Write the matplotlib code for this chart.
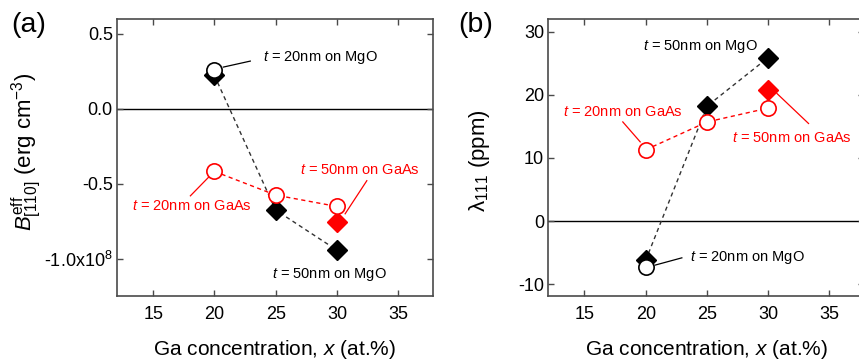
import numpy as np
import matplotlib
matplotlib.use("Agg")
import matplotlib.pyplot as plt

plt.rcParams['font.family'] = ['Liberation Sans', 'DejaVu Sans']
plt.rcParams['mathtext.fontset'] = 'custom'
plt.rcParams['mathtext.rm'] = 'Liberation Sans'
plt.rcParams['mathtext.it'] = 'Liberation Sans:italic'
plt.rcParams['mathtext.default'] = 'regular'
plt.rcParams['axes.unicode_minus'] = False

# Ga concentration (at.%)
x = [20, 25, 30]
x_single = [20]
x_red_d = [30]

# (a) B_eff [110] in units of 1e8 erg cm^-3
a_mgo50 = [0.223, -0.676, -0.944]     # black diamonds, t = 50nm on MgO
a_mgo20 = [0.261]                      # open black circle, t = 20nm on MgO
a_gaas20 = [-0.418, -0.576, -0.652]   # open red circles, t = 20nm on GaAs
a_gaas50 = [-0.759]                    # red diamond, t = 50nm on GaAs

# (b) lambda_111 (ppm)
b_mgo50 = [-6.2, 18.2, 25.9]
b_mgo20 = [-7.2]
b_gaas20 = [11.3, 15.7, 17.9]
b_gaas50 = [20.8]

a_ticks = [0.5, 0.0, -0.5, -1.0]
a_ticklabels = ['0.5', '0.0', '-0.5', '-1.0x10$^{8}$']
b_ticks = [30, 20, 10, 0, -10]
x_ticks = [15, 20, 25, 30, 35]

RED = '#ff0000'
SPINE = '#4a4a4a'

fig = plt.figure(figsize=(8.59, 3.63), dpi=100)
ax1 = fig.add_axes([0.1362, 0.1846, 0.368, 0.763])
ax2 = fig.add_axes([0.6383, 0.1846, 0.368, 0.763])


def style(ax):
    for s in ax.spines.values():
        s.set_color(SPINE)
        s.set_linewidth(1.2)
    ax.tick_params(direction='in', top=True, right=True, length=4,
                   width=1, color=SPINE, labelsize=13)
    ax.tick_params(axis='x', pad=7.5)
    ax.tick_params(axis='y', pad=3)
    ax.set_xlim(12.05, 37.85)
    ax.set_xticks(x_ticks)
    ax.axhline(0, color='black', lw=1.0, zorder=1)
    ax.set_xlabel('Ga concentration, $\\it{x}$ (at.%)', fontsize=15)
    ax.xaxis.set_label_coords(0.5, -0.152)


def draw(ax, mgo50, mgo20, gaas20, gaas50):
    ax.plot(x, mgo50, ls=(0, (3, 2.5)), color='#333333', lw=1, zorder=2)
    ax.plot(x, gaas20, ls=(0, (3, 2.5)), color=RED, lw=1, zorder=2)
    ax.plot(x, mgo50, 'D', ms=10.5, mfc='black', mec='black', lw=0, zorder=3)
    ax.plot(x_red_d, gaas50, 'D', ms=10.5, mfc=RED, mec=RED, lw=0, zorder=3)
    ax.plot(x_single, mgo20, 'o', ms=11, mfc='white', mec='black', mew=1.2, zorder=4)
    ax.plot(x, gaas20, 'o', ms=11, mfc='white', mec=RED, mew=1.2, zorder=4)


def label(ax, txt, xy, color, ha='left', line=None):
    ax.text(xy[0], xy[1], '$\\it{t}$ = ' + txt, color=color, fontsize=10.5,
            ha=ha, va='center', zorder=5)
    if line is not None:
        (x0, y0), (x1, y1) = line
        ax.plot([x0, x1], [y0, y1], color=color, lw=0.9, zorder=5)


# panel (a)
style(ax1)
draw(ax1, a_mgo50, a_mgo20, a_gaas20, a_gaas50)
ax1.set_ylim(-1.25, 0.60)
ax1.set_yticks(a_ticks)
ax1.set_yticklabels(a_ticklabels)
ax1.set_ylabel('$\\it{B}^{\\rm eff}_{[110]}$ (erg cm$^{-3}$)', fontsize=16)
ax1.yaxis.set_label_coords(-0.235, 0.52)
label(ax1, '20nm on MgO', (24.0, 0.342), 'black',
      line=((20.73, 0.279), (22.93, 0.319)))
label(ax1, '50nm on GaAs', (27.0, -0.409), RED,
      line=((32.44, -0.480), (30.67, -0.701)))
label(ax1, '20nm on GaAs', (23.07, -0.652), RED, ha='right',
      line=((18.04, -0.581), (19.51, -0.458)))
label(ax1, '50nm on MgO', (24.7, -1.105), 'black')

# panel (b)
style(ax2)
draw(ax2, b_mgo50, b_mgo20, b_gaas20, b_gaas50)
ax2.set_ylim(-11.85, 32.0)
ax2.set_yticks(b_ticks)
ax2.set_ylabel('$\\lambda_{111}$ (ppm)', fontsize=16)
ax2.yaxis.set_label_coords(-0.178, 0.49)
label(ax2, '50nm on MgO', (19.79, 27.58), 'black')
label(ax2, '20nm on GaAs', (13.26, 17.29), RED,
      line=((18.13, 15.71), (19.55, 12.55)))
label(ax2, '50nm on GaAs', (27.03, 13.18), RED,
      line=((30.71, 20.21), (33.29, 15.46)))
label(ax2, '20nm on MgO', (23.63, -5.74), 'black',
      line=((20.77, -6.96), (22.95, -5.81)))

fig.text(0.013, 0.93, '(a)', fontsize=20.5, va='center')
fig.text(0.534, 0.93, '(b)', fontsize=20.5, va='center')

fig.savefig('out.png', dpi=100)
